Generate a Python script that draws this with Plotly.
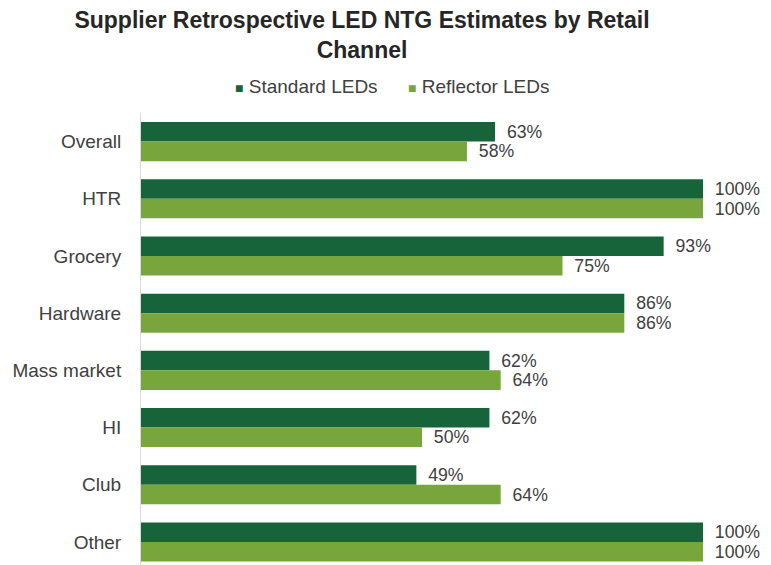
import plotly.graph_objects as go

# Retail channels and NTG estimates (%)
channels = ["Overall", "HTR", "Grocery", "Hardware", "Mass market", "HI", "Club", "Other"]
standard_leds = [63, 100, 93, 86, 62, 62, 49, 100]
reflector_leds = [58, 100, 75, 86, 64, 50, 64, 100]
series_names = ["Standard LEDs", "Reflector LEDs"]

DARK = "#17643a"
LIGHT = "#78a63c"
TXT = "#404040"
FONT = "Liberation Sans, Arial, sans-serif"

fig = go.Figure()
for name, vals, col in [(series_names[0], standard_leds, DARK),
                        (series_names[1], reflector_leds, LIGHT)]:
    fig.add_trace(go.Bar(
        name=name, y=channels, x=vals, orientation="h",
        marker=dict(color=col, line=dict(width=0)),
        text=[f"\u2002{v}%" for v in vals], textposition="outside",
        textfont=dict(size=19, color=TXT, family=FONT),
        cliponaxis=False,
    ))

# Legend drawn as a single centred row of square markers + labels
legend_x = [233, 406]
for name, col, x0 in zip(series_names, [DARK, LIGHT], legend_x):
    fig.add_annotation(
        xref="paper", yref="paper",
        x=(x0 - 141) / (771 - 141), y=1 + (113.4 - 87) / (565 - 113.4),
        xanchor="left", yanchor="middle", showarrow=False,
        text=f'<span style="color:{col};font-size:14px">■</span> {name}',
        font=dict(size=19, color=TXT, family=FONT),
    )

fig.update_layout(
    width=771, height=565,
    margin=dict(l=141, r=0, t=113.4, b=0),
    paper_bgcolor="white", plot_bgcolor="white",
    barmode="group", bargap=0.317, bargroupgap=0,
    font=dict(family=FONT, color=TXT, size=19),
    title=dict(
        text="<b>Supplier Retrospective LED NTG Estimates by Retail<br>Channel</b>",
        x=362 / 771, xanchor="center", y=1 - 28 / 565, yanchor="middle",
        font=dict(size=23, color="#262626", family=FONT),
    ),
    showlegend=False,
    xaxis=dict(range=[0, (771 - 141) / 5.62], showgrid=False, zeroline=False,
               showticklabels=False, showline=False),
    yaxis=dict(range=[7.403, -0.5], showgrid=False, zeroline=False,
               showline=True, linecolor="#d9d9d9", linewidth=1,
               ticks="", ticklabelstandoff=15,
               tickfont=dict(size=19, color=TXT)),
)

fig.write_html("out.html")
